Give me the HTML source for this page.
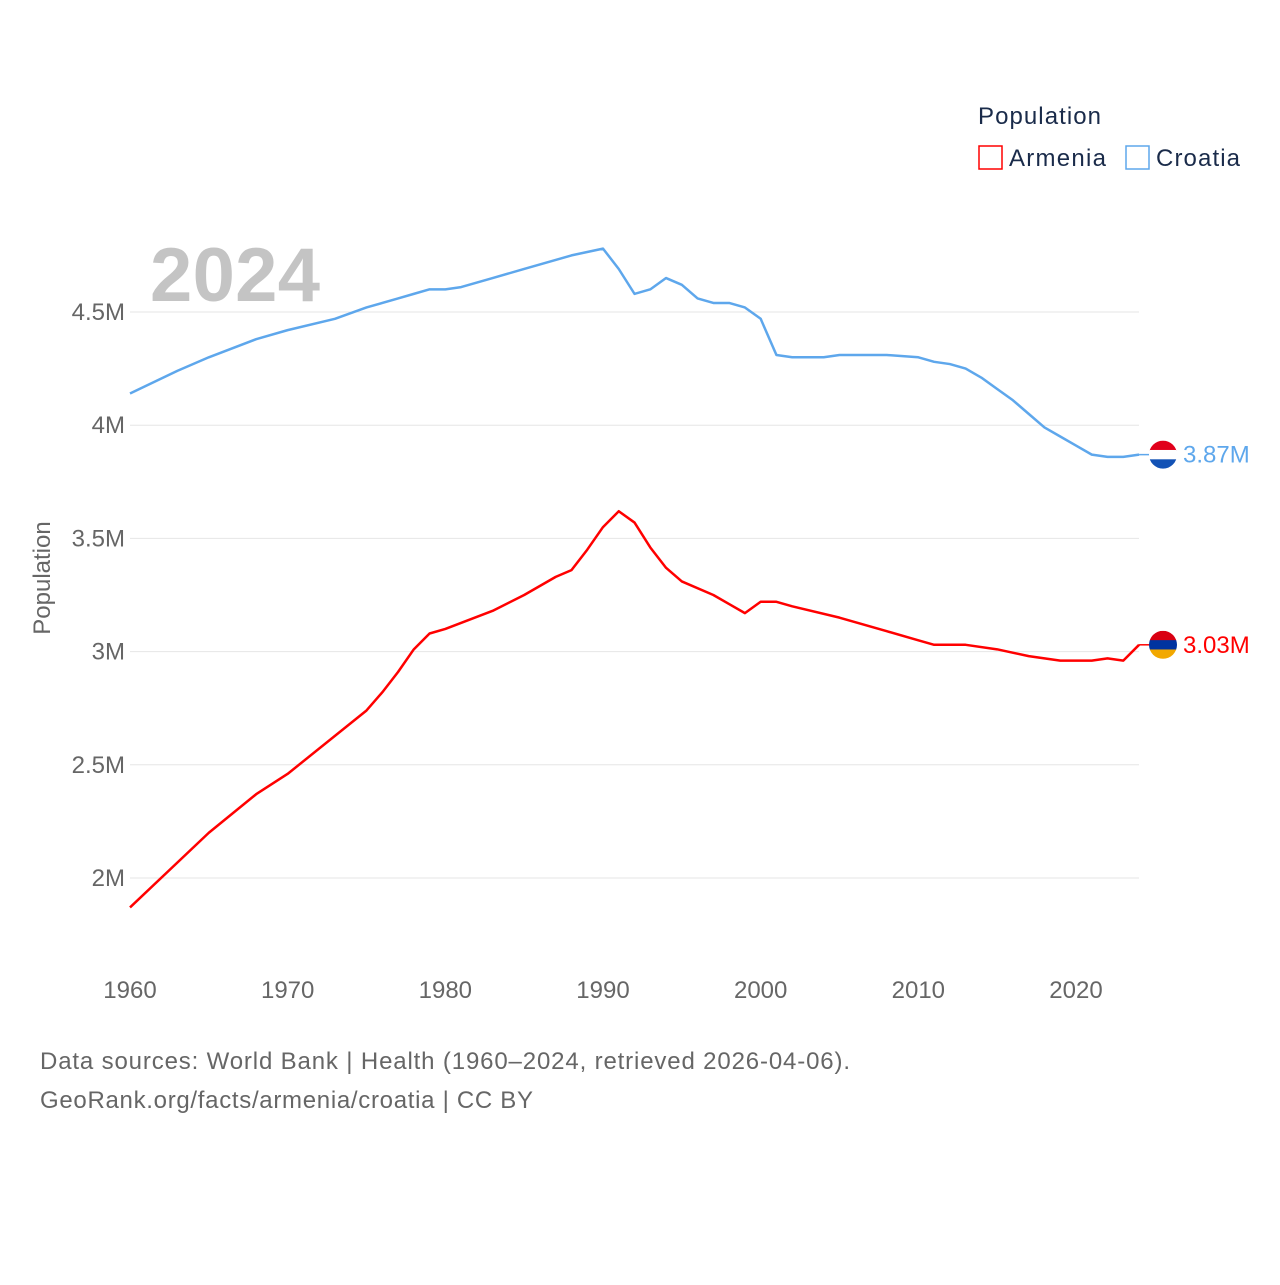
<!DOCTYPE html>
<html><head><meta charset="utf-8">
<style>
body{margin:0;background:#fff;font-family:"Liberation Sans",sans-serif;}
svg text{font-family:"Liberation Sans",sans-serif;}
</style></head>
<body>
<svg id="chart" width="1280" height="1280">
  <text x="150" y="301" font-size="76" font-weight="bold" fill="#c4c4c4" textLength="170">2024</text>
  <text x="978" y="124" font-size="24" fill="#1a2b4a" textLength="123">Population</text>
  <g>
    <rect x="979" y="146" width="23" height="23" fill="none" stroke="#ff0000" stroke-width="1.5"/>
    <text x="1009" y="166" font-size="24" fill="#1a2b4a" textLength="97">Armenia</text>
  </g>
  <g>
    <rect x="1126" y="146" width="23" height="23" fill="none" stroke="#5ea7ec" stroke-width="1.5"/>
    <text x="1156" y="166" font-size="24" fill="#1a2b4a" textLength="84">Croatia</text>
  </g>
  <text transform="translate(50,578) rotate(-90)" text-anchor="middle" font-size="24" fill="#666">Population</text>
  <g id="grid"></g><g id="yt"></g><g id="xt"></g><g id="lines"></g>
  <text x="40" y="1069" font-size="24" fill="#666" textLength="810">Data sources: World Bank | Health (1960–2024, retrieved 2026-04-06).</text>
  <text x="40" y="1108" font-size="24" fill="#666" textLength="493">GeoRank.org/facts/armenia/croatia | CC BY</text>
</svg>
<script>
const yTicks=[2,2.5,3,3.5,4,4.5];
const yTickLabels=["2M","2.5M","3M","3.5M","4M","4.5M"];
const xTicks=[1960,1970,1980,1990,2000,2010,2020];
const croYears=[1960,1963,1965,1968,1970,1973,1975,1977,1978,1979,1980,1981,1982,1983,1985,1987,1988,1990,1991,1992,1993,1994,1995,1996,1997,1998,1999,2000,2001,2002,2004,2005,2008,2010,2011,2012,2013,2014,2015,2016,2017,2018,2019,2020,2021,2022,2023,2024];
const croVals=[4.14,4.24,4.30,4.38,4.42,4.47,4.52,4.56,4.58,4.60,4.60,4.61,4.63,4.65,4.69,4.73,4.75,4.78,4.69,4.58,4.60,4.65,4.62,4.56,4.54,4.54,4.52,4.47,4.31,4.30,4.30,4.31,4.31,4.30,4.28,4.27,4.25,4.21,4.16,4.11,4.05,3.99,3.95,3.91,3.87,3.86,3.86,3.87];
const armYears=[1960,1965,1968,1970,1975,1976,1977,1978,1979,1980,1983,1985,1987,1988,1989,1990,1991,1992,1993,1994,1995,1997,1998,1999,2000,2001,2002,2005,2008,2010,2011,2013,2015,2017,2018,2019,2020,2021,2022,2023,2024];
const armVals=[1.87,2.20,2.37,2.46,2.74,2.82,2.91,3.01,3.08,3.10,3.18,3.25,3.33,3.36,3.45,3.55,3.62,3.57,3.46,3.37,3.31,3.25,3.21,3.17,3.22,3.22,3.20,3.15,3.09,3.05,3.03,3.03,3.01,2.98,2.97,2.96,2.96,2.96,2.97,2.96,3.03];
const NS="http://www.w3.org/2000/svg";
const X=y=>130+(y-1960)*(946/60);
const Y=v=>878-(v-2)*226.4;
function mk(t,a,p){const e=document.createElementNS(NS,t);for(const k in a)e.setAttribute(k,a[k]);p.appendChild(e);return e;}
const grid=document.getElementById('grid'),yt=document.getElementById('yt'),xt=document.getElementById('xt'),lines=document.getElementById('lines');
yTicks.forEach((v,i)=>{
  const l=mk('line',{x1:130,x2:1139,y1:Y(v),y2:Y(v),stroke:'#e6e6e6','stroke-width':1},grid);
  
  
  const t=mk('text',{x:125,y:Y(v)+8,'text-anchor':'end','font-size':24,fill:'#666'},yt);
  t.textContent=yTickLabels[i];
  
  
});
xTicks.forEach(y=>{
  const t=mk('text',{x:X(y),y:998,'text-anchor':'middle','font-size':24,fill:'#666'},xt);
  t.textContent=y;
  
  
});
function line(ys,vs,col,name){
  const p=mk('path',{d:ys.map((y,i)=>(i?'L':'M')+X(y)+','+Y(vs[i])).join(''),fill:'none',stroke:col,'stroke-width':2.5,'stroke-linejoin':'round'},lines);
  
  
}
line(croYears,croVals,'#5ea7ec','croatia-line');
line(armYears,armVals,'#ff0000','armenia-line');
function endLabel(ys,vs,col,flag,name){
  const v=vs[vs.length-1],y=Y(v),x=X(ys[ys.length-1]);
  mk('line',{x1:x,x2:1150,y1:y,y2:y,stroke:col,'stroke-width':1.5},lines);
  const g=mk('g',{},lines);
  
  
  const cp=name+'clip';
  const c=mk('clipPath',{id:cp},g);mk('circle',{cx:1163,cy:y,r:14},c);
  flag.forEach((f,i)=>mk('rect',{x:1149,y:y-14+i*28/flag.length,width:28,height:28/flag.length+0.5,fill:f,'clip-path':'url(#'+cp+')'},g));
  const t=mk('text',{x:1183,y:y+8,'font-size':24,fill:col},lines);
  t.textContent=v.toFixed(2)+'M';
  
  
}
endLabel(croYears,croVals,'#5ea7ec',['#e1001b','#ffffff','#1352b5'],'croatia');
endLabel(armYears,armVals,'#ff0000',['#d90012','#0033a0','#f2a800'],'armenia');
</script>
</body></html>
